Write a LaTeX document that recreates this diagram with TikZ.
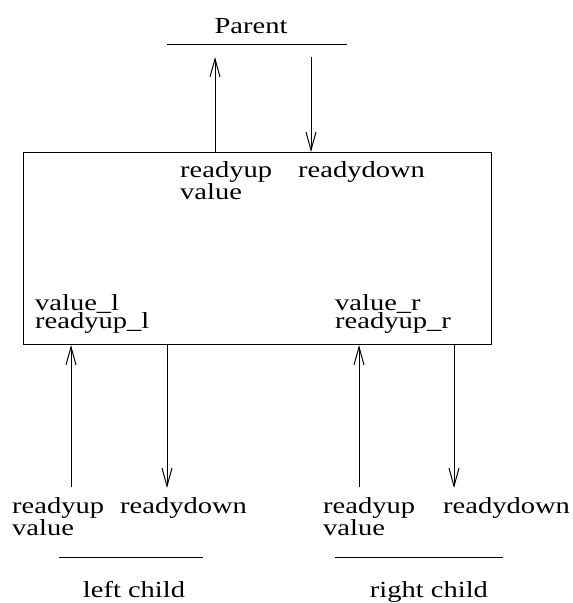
\documentclass[tikz,border=0pt]{standalone}
\usepackage{fontspec}
\setmainfont{Liberation Serif}[FakeStretch=1.24]
\usetikzlibrary{arrows.meta,positioning}

\begin{document}
\begin{tikzpicture}[x=1pt,y=-1pt,
  lbl/.style={font=\fontsize{23}{23}\selectfont, inner sep=0pt, anchor=base west},
  wire/.style={line width=1pt},
  sig/.style={line width=1pt, -{Straight Barb[length=18pt,width=10pt]}}]
\useasboundingbox (0,0) rectangle (573,603);
% parent
\node[lbl, anchor=base] (parent) at (251,33) {Parent};
\coordinate (pl) at (167,44);
\coordinate (pr) at (347,44);
\draw[wire] (pl) -- (pr);
% the node itself
\node[draw, line width=1pt, inner sep=0pt, minimum width=468pt, minimum height=192pt,
      anchor=north west] (box) at (23,152) {};
\coordinate (pupt) at (215,57);
\coordinate (pdnt) at (311,57);
\draw[sig] (box.north -| pupt) -- (pupt);   % up to parent
\draw[sig] (pdnt) -- (box.north -| pdnt);   % down from parent
\node[lbl] (bup) at (180,177) {readyup};
\node[lbl] (bval) at ([yshift=-22pt]bup.base west) {value};
\node[lbl] (bdown) at (298,177) {readydown};
\node[lbl] (vall) at (35,310) {value\_l};
\node[lbl] (rupl) at ([yshift=-18pt]vall.base west) {readyup\_l};
\node[lbl] (valr) at (335,310) {value\_r};
\node[lbl] (rupr) at ([yshift=-18pt]valr.base west) {readyup\_r};
% left child
\coordinate (lup) at (71,487);
\coordinate (ldn) at (167,488);
\draw[sig] (lup) -- (box.south -| lup);
\draw[sig] (box.south -| ldn) -- (ldn);
\node[lbl] (lrup) at (12,513) {readyup};
\node[lbl] (lval) at ([yshift=-22pt]lrup.base west) {value};
\node[lbl] (lrdn) at (120,513) {readydown};
\coordinate (ll) at (59,557);
\coordinate (lr) at (203,557);
\draw[wire] (ll) -- (lr);
\node[lbl, anchor=base] (lchild) at (134,597) {left child};
% right child
\coordinate (rup) at (359,487);
\coordinate (rdn) at (454,488);
\draw[sig] (rup) -- (box.south -| rup);
\draw[sig] (box.south -| rdn) -- (rdn);
\node[lbl] (rrup) at (323,513) {readyup};
\node[lbl] (rval) at ([yshift=-22pt]rrup.base west) {value};
\node[lbl] (rrdn) at (443,513) {readydown};
\coordinate (rl) at (335,557);
\coordinate (rr) at (503,557);
\draw[wire] (rl) -- (rr);
\node[lbl, anchor=base] (rchild) at (429,597) {right child};
\end{tikzpicture}
\end{document}
